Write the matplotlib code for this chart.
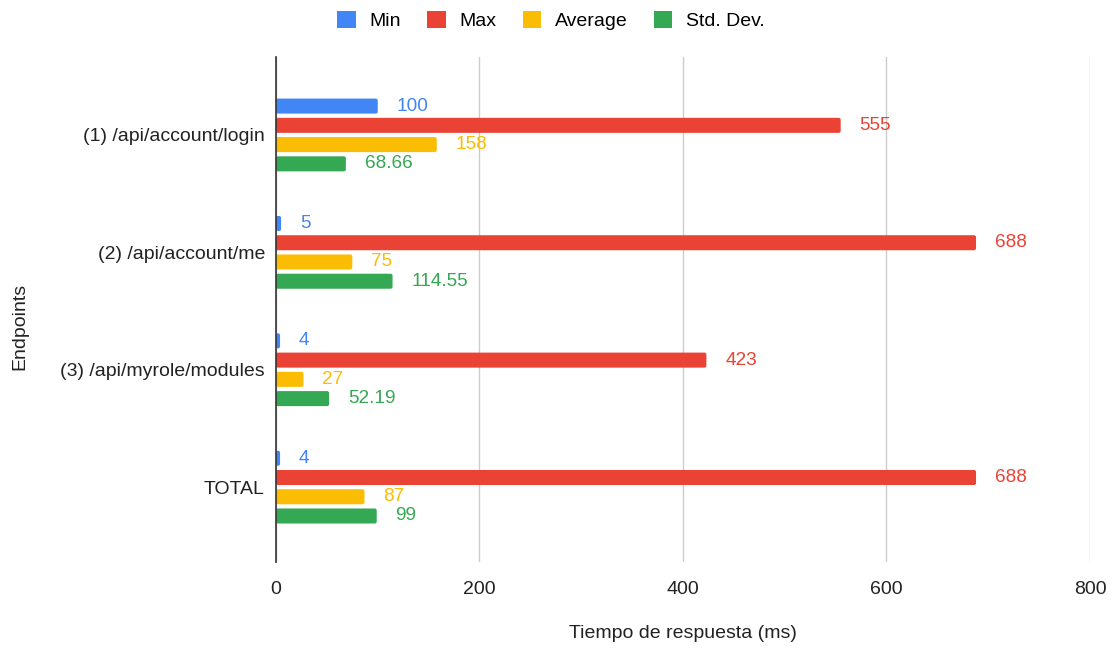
import numpy as np
import matplotlib.pyplot as plt
from matplotlib.patches import FancyBboxPatch, Patch

plt.rcParams['font.family'] = ['Liberation Sans', 'DejaVu Sans']

endpoints = ["(1) /api/account/login", "(2) /api/account/me",
             "(3) /api/myrole/modules", "TOTAL"]
min_ms = [100, 5, 4, 4]
max_ms = [555, 688, 423, 688]
avg_ms = [158, 75, 27, 87]
std_ms = [68.66, 114.55, 52.19, 99]
series_names = ["Min", "Max", "Average", "Std. Dev."]
colors = ["#4285F4", "#EA4335", "#FBBC04", "#34A853"]
value_labels = [
    ["100", "5", "4", "4"],
    ["555", "688", "423", "688"],
    ["158", "75", "27", "87"],
    ["68.66", "114.55", "52.19", "99"],
]

fig = plt.figure(figsize=(11.12, 6.48), dpi=100)
ax = fig.add_axes([0.2482, 0.1327, 0.7320, 0.7793])

ax.set_xlim(0, 800)
ax.set_ylim(3.638, -0.664)

y = np.arange(len(endpoints))
bar_h = 0.128
step = 0.164
all_series = [min_ms, max_ms, avg_ms, std_ms]

# pixel size of one data unit, used to keep bar corners round
bbox = ax.get_window_extent()
px_x = bbox.width / 800
px_y = bbox.height / (3.638 + 0.664)

for i, (vals, col) in enumerate(zip(all_series, colors)):
    pos = y + (i - 1.5) * step
    bars = ax.barh(pos, vals, height=bar_h, color=col, zorder=3)
    for b, v, txt in zip(bars, vals, value_labels[i]):
        b.set_visible(False)
        ax.add_patch(FancyBboxPatch(
            (b.get_x(), b.get_y()), b.get_width(), b.get_height(),
            boxstyle="round,pad=0,rounding_size=%.3f" % (2.0 / px_x),
            mutation_aspect=px_x / px_y, facecolor=col, edgecolor="none",
            zorder=3))
        ax.annotate(txt, (v, b.get_y() + bar_h / 2), xytext=(13.5, 0),
                    textcoords="offset points", va="center", ha="left",
                    color=col, fontsize=13.7)

ax.set_xticks([0, 200, 400, 600, 800])
ax.set_yticks(y)
ax.set_yticklabels(endpoints)
ax.tick_params(axis='both', length=0, labelsize=14, colors="#222222")
ax.tick_params(axis='x', pad=14)
ax.tick_params(axis='y', pad=8)
ax.grid(axis='x', color="#cccccc", linewidth=1, zorder=0)
for s in ["top", "right", "bottom"]:
    ax.spines[s].set_visible(False)
ax.spines["left"].set_color("#333333")
ax.spines["left"].set_linewidth(1.2)
ax.spines["left"].set_zorder(4)

ax.set_xlabel("Tiempo de respuesta (ms)", fontsize=14, color="#222222",
              labelpad=19)
fig.text(0.018, 0.497, "Endpoints", rotation=90, va="center", ha="center",
         fontsize=14, color="#222222")

handles = [Patch(facecolor=c, edgecolor="none") for c in colors]
fig.legend(handles, series_names, loc="center", bbox_to_anchor=(0.4955, 0.968),
           ncol=4, frameon=False, fontsize=14, handlelength=0.95,
           handleheight=0.95, handletextpad=0.7, columnspacing=1.35)

fig.savefig("out.png", dpi=100)
